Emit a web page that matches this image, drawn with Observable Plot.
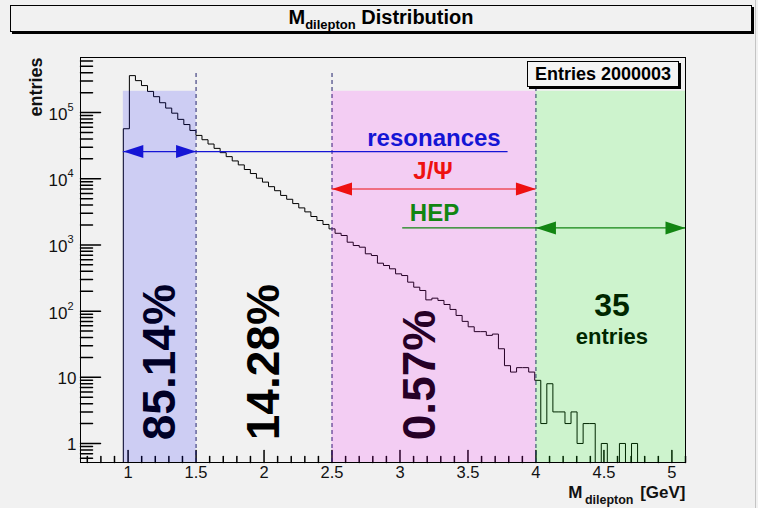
<!DOCTYPE html>
<html><head><meta charset="utf-8">
<script src="https://cdn.jsdelivr.net/npm/d3@7"></script>
<script src="https://cdn.jsdelivr.net/npm/@observablehq/plot@0.6"></script>
<style>
html,body{margin:0;padding:0;}
body{width:758px;height:508px;overflow:hidden;background:#f1f1f1;position:relative;font-family:"Liberation Sans",Arial,Helvetica,sans-serif;}
#title{position:absolute;left:10px;top:5px;width:740px;height:25px;border:1px solid #000;box-shadow:2px 2px 0 #000;text-align:center;font-weight:bold;font-size:20px;line-height:22px;background:#f1f1f1;color:#000;}
#title sub{font-size:13px;vertical-align:baseline;position:relative;top:5px;}
#chart{position:absolute;left:0;top:40px;}
#stats{position:absolute;left:527px;top:61px;width:150px;height:24px;border:1px solid #000;box-shadow:2px 2px 0 #000;background:#f4f4f4;font-weight:bold;font-size:18px;line-height:24px;text-align:center;color:#000;}
#edge{position:absolute;left:755px;top:0;width:1px;height:508px;background:#c4c4c4;}
</style></head>
<body>
<div id="title">M<sub>dilepton</sub> Distribution</div>
<div id="chart"></div>
<div id="stats">Entries 2000003</div>
<div id="edge"></div>
<script>
// ---- data ----
const binStart = 0.965;
const binWidth = 0.0445;
const counts = [
  57000, 362000, 304000, 256000, 209000, 174000, 141000, 117000, 98000, 79000,
  66000, 53700, 45200, 38900, 33500, 28800, 24800, 21600, 18600, 16200,
  13800, 12000, 10200, 8900, 7600, 6600, 5600, 4900, 4220, 3630,
  3160, 2690, 2340, 2040, 1750, 1500, 1390, 1100, 980, 925,
  735, 692, 530, 489, 436, 366, 345, 274, 230, 205,
  148, 157, 145, 126, 106, 86, 70, 58, 49, 49,
  43, 45, 27, 15, 12, 14, 14, 12, 9, 2,
  8, 3, 3, 2, 3, 1, 2, 2, 0, 1,
  0, 0, 1, 0, 1
];
const xDomain = [0.65, 5.1];
const yDomain = [0.516, 6.8e5];
const xMajor = [1, 1.5, 2, 2.5, 3, 3.5, 4, 4.5, 5];
const xMajorLabels = ["1", "1.5", "2", "2.5", "3", "3.5", "4", "4.5", "5"];
const yMajor = [1, 10, 100, 1000, 10000, 100000];
const yBase = ["1", "10", "10", "10", "10", "10"];
const yExp = ["", "", "2", "3", "4", "5"];

const regionStart = [0.965, 2.5, 4.0];
const regionEnd = [1.5, 4.0, 5.1];
const regionColor = ["#0000ff", "#ff00ff", "#00ff00"];
const regionTop = 2.1e5;
const dividers = [1.5, 2.5, 4.0];
const dividerTop = 4.3e5;

const pctLabels = ["85.14%", "14.28%", "0.57%"];
const pctX = [1.235, 2.004, 3.147];
const pctY = 1.12;
const hepCount = "35";
const hepWord = "entries";
const hepX = 4.559;
const hepY = [121, 41];

const arrowNames = ["resonances", "J/\u03A8", "HEP"];
const arrowColor = ["#1515d5", "#ee1111", "#128512"];
const arrowY = [25800, 7000, 1810];
const lineFrom = [0.965, 2.5, 3.02];
const lineTo = [3.795, 4.0, 5.1];
const headLeft = [0.965, 2.5, 4.0];
const headRight = [1.5, 4.0, 5.1];
const labelX = [3.25, 3.243, 3.254];
const labelY = [31700, 10000, 2340];

// ---- derived ----
const yMin = yDomain[0];
const steps = [{x: binStart, y: yMin}].concat(
  counts.map((c, i) => ({x: binStart + i * binWidth, y: Math.max(c, yMin)})),
  [{x: binStart + counts.length * binWidth, y: yMin}]
);
const xMinor = d3.ticks(0.7, 5.1, 44).filter(v => Math.abs(v * 2 - Math.round(v * 2)) > 1e-6);
const yMinor = d3.scaleLog().domain(yDomain).ticks().filter(v => Math.abs(Math.log10(v) - Math.round(Math.log10(v))) > 1e-6);
const idx3 = [0, 1, 2];
const expIdx = yExp.map((e, i) => i).filter(i => yExp[i] !== "");
const plainIdx = yExp.map((e, i) => i).filter(i => yExp[i] === "");

const tickShape = {draw(ctx, l) { ctx.moveTo(0, 0); ctx.lineTo(0, -l); }};
const rightHead = {draw(ctx) { ctx.moveTo(0, 0); ctx.lineTo(-20, -6.5); ctx.lineTo(-20, 6.5); ctx.closePath(); }};
const leftHead = {draw(ctx) { ctx.moveTo(0, 0); ctx.lineTo(20, -6.5); ctx.lineTo(20, 6.5); ctx.closePath(); }};

const font = "Liberation Sans, Arial, Helvetica, sans-serif";

const chart = Plot.plot({
  width: 758,
  height: 468,
  marginTop: 17,
  marginBottom: 46,
  marginLeft: 80,
  marginRight: 73,
  x: {domain: xDomain, axis: null},
  y: {type: "log", domain: yDomain, axis: null},
  color: {type: "identity"},
  style: {background: "transparent", fontFamily: font, color: "black", overflow: "visible"},
  marks: [
    // histogram
    Plot.line(steps, {x: "x", y: "y", curve: "step-after", stroke: "black", strokeWidth: 1}),
    // ticks
    Plot.vector(xMinor, {x: d => d, frameAnchor: "bottom", length: 6, anchor: "start", shape: tickShape, stroke: "black"}),
    Plot.vector(xMajor, {x: d => d, frameAnchor: "bottom", length: 12, anchor: "start", shape: tickShape, stroke: "black"}),
    Plot.vector(yMinor, {y: d => d, frameAnchor: "left", length: 12, rotate: 90, anchor: "start", shape: tickShape, stroke: "black"}),
    Plot.vector(yMajor, {y: d => d, frameAnchor: "left", length: 20, rotate: 90, anchor: "start", shape: tickShape, stroke: "black"}),
    // big labels
    Plot.text(idx3, {x: i => pctX[i], y: pctY, text: i => pctLabels[i], rotate: -90, textAnchor: "start", lineAnchor: "middle", fontSize: 46, fontWeight: "bold", fill: "black"}),
    Plot.text([hepCount], {x: hepX, y: hepY[0], text: d => d, lineAnchor: "middle", fontSize: 32, fontWeight: "bold", fill: "black"}),
    Plot.text([hepWord], {x: hepX, y: hepY[1], text: d => d, lineAnchor: "middle", fontSize: 22, fontWeight: "bold", fill: "black"}),
    // dividers
    Plot.ruleX(dividers, {x: d => d, y1: yMin, y2: dividerTop, stroke: "#20206a", strokeDasharray: "4,3"}),
    // shaded regions
    Plot.rect(idx3, {x1: i => regionStart[i], x2: i => regionEnd[i], y1: yMin, y2: regionTop, fill: i => regionColor[i], fillOpacity: 0.15}),
    // arrows
    Plot.ruleY(idx3, {y: i => arrowY[i], x1: i => lineFrom[i], x2: i => lineTo[i], stroke: i => arrowColor[i], strokeWidth: 1.2}),
    Plot.dot(idx3, {x: i => headLeft[i], y: i => arrowY[i], symbol: leftHead, r: 5, fill: i => arrowColor[i]}),
    Plot.dot(idx3, {x: i => headRight[i], y: i => arrowY[i], symbol: rightHead, r: 5, fill: i => arrowColor[i]}),
    Plot.text(idx3, {x: i => labelX[i], y: i => labelY[i], text: i => arrowNames[i], fill: i => arrowColor[i], lineAnchor: "bottom", fontSize: 24, fontWeight: "bold"}),
    // frame
    Plot.frame({stroke: "black", strokeWidth: 1}),
    // tick labels
    Plot.text(xMajor, {x: d => d, text: (d, i) => xMajorLabels[i], frameAnchor: "bottom", dy: 4, lineAnchor: "top", fontSize: 16.5, fill: "#111"}),
    Plot.text(plainIdx, {y: i => yMajor[i], text: i => yBase[i], frameAnchor: "left", dx: -4, dy: 1, textAnchor: "end", lineAnchor: "middle", fontSize: 17, fill: "#111"}),
    Plot.text(expIdx, {y: i => yMajor[i], text: i => yBase[i], frameAnchor: "left", dx: -13, dy: 2, textAnchor: "end", lineAnchor: "middle", fontSize: 17, fill: "#111"}),
    Plot.text(expIdx, {y: i => yMajor[i], text: i => yExp[i], frameAnchor: "left", dx: -13, dy: -5, textAnchor: "start", lineAnchor: "middle", fontSize: 11, fill: "#111"}),
    // axis titles
    Plot.text(["entries"], {text: d => d, frameAnchor: "top-left", dx: -44, rotate: -90, textAnchor: "end", lineAnchor: "middle", fontSize: 18, fontWeight: "bold", fill: "#111"}),
    Plot.text(["[GeV]"], {text: d => d, frameAnchor: "bottom-right", dy: 35, textAnchor: "end", lineAnchor: "bottom", fontSize: 17, fontWeight: "bold", fill: "#111"}),
    Plot.text(["dilepton"], {text: d => d, frameAnchor: "bottom-right", dx: -52, dy: 41, textAnchor: "end", lineAnchor: "bottom", fontSize: 12.5, fontWeight: "bold", fill: "#111"}),
    Plot.text(["M"], {text: d => d, frameAnchor: "bottom-right", dx: -103, dy: 35, textAnchor: "end", lineAnchor: "bottom", fontSize: 17, fontWeight: "bold", fill: "#111"})
  ]
});
document.getElementById("chart").appendChild(chart);
</script>
</body></html>
